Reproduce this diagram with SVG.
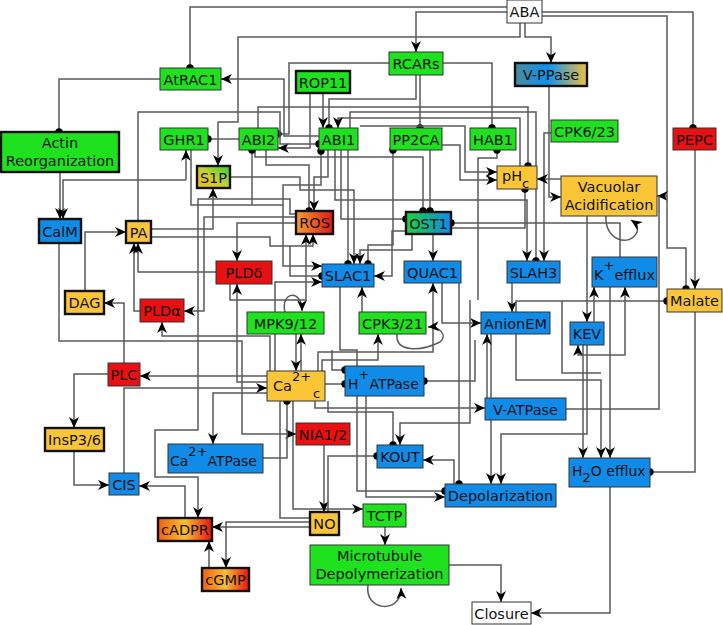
<svg xmlns="http://www.w3.org/2000/svg" width="723" height="625" viewBox="0 0 723 625">
<defs>
<marker id="ar" viewBox="0 0 10 10" refX="10" refY="5" markerWidth="11" markerHeight="11" markerUnits="userSpaceOnUse" orient="auto-start-reverse"><path d="M0,0.5 L10,5 L0,9.5 L3,5z" fill="#000"/></marker>
<marker id="dt" viewBox="0 0 8 8" refX="4" refY="4" markerWidth="8" markerHeight="8" markerUnits="userSpaceOnUse"><circle cx="4" cy="4" r="3.7" fill="#000"/></marker>
<linearGradient id="gS1P" x1="0" y1="1" x2="1" y2="0"><stop offset="0" stop-color="#f5b82a"/><stop offset="0.5" stop-color="#c8d030"/><stop offset="1" stop-color="#30d030"/></linearGradient>
<linearGradient id="gVPP" x1="0" y1="0" x2="1" y2="0"><stop offset="0" stop-color="#4a8a9a"/><stop offset="0.45" stop-color="#1090f0"/><stop offset="1" stop-color="#f0c040"/></linearGradient>
<linearGradient id="gROS" x1="0" y1="0" x2="1" y2="0"><stop offset="0" stop-color="#f8a030"/><stop offset="1" stop-color="#e01818"/></linearGradient>
<linearGradient id="gOST" x1="0" y1="0" x2="1" y2="0"><stop offset="0" stop-color="#20d040"/><stop offset="0.5" stop-color="#10b090"/><stop offset="1" stop-color="#1088f0"/></linearGradient>
<linearGradient id="gCA" x1="0" y1="0" x2="1" y2="0"><stop offset="0" stop-color="#f06010"/><stop offset="0.5" stop-color="#f8c030"/><stop offset="1" stop-color="#e81010"/></linearGradient>
</defs>
<style>
#connectors path{fill:none;stroke:#5a5a5a;stroke-width:1.5}
.a{marker-end:url(#ar)}
.d{marker-end:url(#dt)}
.dd{marker-start:url(#dt);marker-end:url(#dt)}
.ab{marker-start:url(#ar);marker-end:url(#ar)}
rect{stroke:#333;stroke-width:1}
.tk{stroke:#111;stroke-width:2.4}
.gr{fill:#1ee21e}.bl{fill:#108ce8}.ye{fill:#fac638}.rd{fill:#e81010}.wh{fill:#fff}
text{font-family:"DejaVu Sans","Liberation Sans",sans-serif;font-size:14.5px;fill:#111;text-anchor:middle}
.l{text-anchor:start}
.s{font-size:13px}
</style>
<rect width="723" height="625" fill="#fff" style="stroke:none"/>
<g id="connectors">
<path class="d" d="M507,7 H190 V68"/>
<path class="a" d="M507,12 H416 V52"/>
<path class="a" d="M520,23 V37 H238 V122 H218 V166"/>
<path class="a" d="M525,23 V37 H551 V63"/>
<path class="d" d="M542,12 H693 V128"/>
<path class="a" d="M542,16 H667 V196 H657"/>
<path class="d" d="M667,196 V248 H686 V289"/>
<path class="d" d="M389,63 H289 V134 H278"/>
<path class="d" d="M420,75 V128"/>
<path class="d" d="M443,63 H492 V128"/>
<path class="d" d="M416,75 V99 H329 V128"/>
<path class="a" d="M310,93 V148 H278"/>
<path class="a" d="M323,93 V128"/>
<path class="d" d="M160,79 H59 V132"/>
<path class="a" d="M319,136 H284 V79 H221"/>
<path class="d" d="M138,221 V112 H280 V144 H319"/>
<path class="d" d="M239,139 H208"/>
<path class="a" d="M60,172 V219"/>
<path class="a" d="M186,180 H63 V219"/>
<path class="a" d="M186,180 V150"/>
<path class="a" d="M191,150 V205 H283 V266 H322"/>
<path class="a" d="M85,291 V232 H126"/>
<path class="a" d="M140,311 H134 V243"/>
<path class="a" d="M216,272 H138 V243"/>
<path class="a" d="M124,363 V303 H104"/>
<path class="a" d="M151,229 H213 V188"/>
<path class="a" d="M151,237 H270 V246 H313 V234"/>
<path class="a" d="M230,177 H300 V190 H354 V264"/>
<path class="a" d="M296,223 H237 V261"/>
<path class="a" d="M296,217 H204 V311 H184"/>
<path class="a" d="M296,214 H290 V199 H198 V430 H155 V477 H198 V518"/>
<path class="a" d="M412,234 V250 H360 V264"/>
<path class="a" d="M406,231 H392 V276 H374"/>
<path class="a" d="M275,371 V282 H322"/>
<path class="a" d="M322,371 V360 H378 V334"/>
<path class="a" d="M318,371 V352 H433 V283"/>
<path class="a" d="M362,312 V287"/>
<path class="a" d="M301,371 V334"/>
<path class="a" d="M296,334 V371"/>
<path class="a" d="M433,234 V261"/>
<path class="a" d="M442,283 V323 H481"/>
<path class="a" d="M512,283 V312"/>
<path class="a" d="M551,133 H544 V261"/>
<path class="a" d="M335,150 V200 H527 V261"/>
<path class="a" d="M549,86 V197 H561"/>
<path class="a" d="M561,179 H537"/>
<path class="a" d="M360,126 H465 V172 H497"/>
<path class="a" d="M442,145 H460 V180 H497"/>
<path class="a" d="M520,166 V118 H338 V128"/>
<path class="a" d="M587,216 V322"/>
<path class="a" d="M594,322 V287"/>
<path class="ab" d="M578,345 V355 H625 V287"/>
<path class="a" d="M587,345 V434 H501 V484"/>
<path class="a" d="M583,345 V458"/>
<path class="a" d="M610,287 V458"/>
<path class="a" d="M516,334 V380 H601 V458"/>
<path d="M562,301 V373 H601"/>
<path class="a" d="M491,334 V484"/>
<path class="a" d="M487,398 V334"/>
<path class="a" d="M695,150 V289"/>
<path d="M566,409 H659 V196"/>
<path class="a" d="M267,393 H213 V444"/>
<path class="a" d="M315,401 V408 H485"/>
<path class="a" d="M293,401 V509 H363"/>
<path d="M280,401 V518 H310"/>
<path class="a" d="M324,445 V512"/>
<path class="a" d="M310,527 H212"/>
<path class="a" d="M310,522 H226 V568"/>
<path class="a" d="M209,568 V541"/>
<path class="a" d="M185,518 V486 H139"/>
<path class="a" d="M74,451 V485 H109"/>
<path class="a" d="M108,374 H74 V428"/>
<path class="a" d="M124,473 V388 H267"/>
<path class="a" d="M267,376 H140"/>
<path class="a" d="M270,371 V336 H162 V322"/>
<path class="a" d="M267,382 H237 V284"/>
<path class="a" d="M59,243 V341 H242 V434 H296"/>
<path class="a" d="M366,396 V497 H445"/>
<path class="d" d="M340,287 V350 H357 V491 H445"/>
<path class="a" d="M454,484 V460 H423"/>
<path class="a" d="M470,300 V423 H400 V445"/>
<path class="a" d="M449,565 H501 V602"/>
<path class="a" d="M610,487 V613 H531"/>
<path class="a" d="M385,527 V545"/>
<path class="a" d="M230,284 V300 H306 V234"/>
<path class="a" d="M328,150 V177 H314 V211"/>
<path class="a" d="M285,312 C280,292 302,288 302,311"/>
<path class="a" d="M397,334 C395,352 420,352 440,342 C448,336 440,326 428,327"/>
<path class="a" d="M606,216 C604,240 630,248 637,232 C639,226 634,222 631,220"/>
<path class="a" d="M368,585 C364,612 402,614 401,588"/>
<path class="d" d="M255,150 V157 H423 V211"/>
<path class="d" d="M430,150 V211"/>
<path class="d" d="M341,150 V219 H406"/>
<path class="d" d="M348,150 V264"/>
<path class="dd" d="M393,150 V245 H368 V264"/>
<path class="d" d="M258,128 V107 H528 V166"/>
<path class="d" d="M350,128 V112 H536 V261"/>
<path class="d" d="M451,228 H525 V189"/>
<path class="d" d="M620,257 V223 H451"/>
<path class="d" d="M478,300 V158 H497 V150"/>
<path class="d" d="M325,384 H345"/>
<path class="d" d="M332,350 V370 H345"/>
<path class="d" d="M475,340 V381 H424"/>
<path class="d" d="M263,458 H287 V401"/>
<path class="d" d="M328,401 V412 H393 V445"/>
<path class="d" d="M328,512 V456 H377"/>
<path class="d" d="M459,283 V484"/>
<path class="d" d="M516,312 V301 H667"/>
<path class="d" d="M695,312 V472 H650"/>
<path class="d" d="M252,205 V150"/>
<path class="d" d="M283,205 V185 H321 V151"/>
<path class="d" d="M266,150 V165 H309 V211"/>
<path class="d" d="M290,246 V276 H322"/>
</g>
<g id="ABA"><rect class="wh" x="507" y="0" width="35" height="23"/><text x="524.5" y="17">ABA</text></g>
<g id="RCARs"><rect class="gr" x="389" y="52" width="54" height="23"/><text x="416" y="69">RCARs</text></g>
<g id="AtRAC1"><rect class="gr" x="160" y="68" width="61" height="22"/><text x="190.5" y="84.5">AtRAC1</text></g>
<g id="ROP11"><rect class="gr tk" x="296" y="71" width="54" height="22"/><text x="323" y="87.5">ROP11</text></g>
<g id="V-PPase"><rect class="tk" fill="url(#gVPP)" x="515" y="63" width="72" height="23"/><text x="551" y="80">V-PPase</text></g>
<g id="ActinReorganization"><rect class="gr tk" x="1" y="132" width="118" height="40"/><text x="60" y="148">Actin</text><text x="60" y="166">Reorganization</text></g>
<g id="GHR1"><rect class="gr" x="160" y="128" width="48" height="22"/><text x="184" y="144.5">GHR1</text></g>
<g id="ABI2"><rect class="gr" x="239" y="128" width="39" height="22"/><text x="258.5" y="144.5">ABI2</text></g>
<g id="ABI1"><rect class="gr" x="319" y="128" width="39" height="22"/><text x="338.5" y="144.5">ABI1</text></g>
<g id="PP2CA"><rect class="gr" x="390" y="128" width="52" height="22"/><text x="416" y="144.5">PP2CA</text></g>
<g id="HAB1"><rect class="gr" x="470" y="128" width="46" height="22"/><text x="493" y="144.5">HAB1</text></g>
<g id="CPK6_23"><rect class="gr" x="551" y="120" width="67" height="22"/><text x="584.5" y="136.5">CPK6/23</text></g>
<g id="PEPC"><rect class="rd" x="673" y="128" width="43" height="22"/><text x="694.5" y="144.5">PEPC</text></g>
<g id="S1P"><rect class="tk" fill="url(#gS1P)" x="197" y="166" width="33" height="22"/><text x="213.5" y="182.5">S1P</text></g>
<g id="pHc"><rect class="ye" x="497" y="166" width="40" height="23"/><text class="l" x="502" y="181">pH<tspan class="s" dy="7">c</tspan></text></g>
<g id="VacuolarAcidification"><rect class="ye" x="561" y="176" width="96" height="40"/><text x="609" y="192">Vacuolar</text><text x="609" y="210">Acidification</text></g>
<g id="ROS"><rect class="tk" fill="url(#gROS)" x="296" y="211" width="37" height="23"/><text x="314.5" y="228">ROS</text></g>
<g id="OST1"><rect class="tk" fill="url(#gOST)" x="406" y="212" width="45" height="22"/><text x="428.5" y="228.5">OST1</text></g>
<g id="CalM"><rect class="bl tk" x="39" y="219" width="42" height="24"/><text x="60" y="236.5">CalM</text></g>
<g id="PA"><rect class="ye tk" x="126" y="221" width="25" height="22"/><text x="138.5" y="237.5">PA</text></g>
<g id="PLDdelta"><rect class="rd" x="216" y="261" width="56" height="23"/><text x="244" y="278">PLDδ</text></g>
<g id="SLAC1"><rect class="bl" x="322" y="264" width="52" height="23"/><text x="348" y="281">SLAC1</text></g>
<g id="QUAC1"><rect class="bl" x="404" y="261" width="57" height="22"/><text x="432.5" y="277.5">QUAC1</text></g>
<g id="SLAH3"><rect class="bl" x="507" y="261" width="53" height="22"/><text x="533.5" y="277.5">SLAH3</text></g>
<g id="Kefflux"><rect class="bl" x="592" y="257" width="65" height="30"/><text class="l" x="594" y="280">K<tspan class="s" dy="-10">+</tspan><tspan dy="10">efflux</tspan></text></g>
<g id="Malate"><rect class="ye" x="667" y="289" width="55" height="23"/><text x="694.5" y="306">Malate</text></g>
<g id="DAG"><rect class="ye tk" x="65" y="291" width="39" height="23"/><text x="84.5" y="308">DAG</text></g>
<g id="PLDalpha"><rect class="rd" x="140" y="299" width="44" height="23"/><text x="162" y="316">PLDα</text></g>
<g id="MPK9_12"><rect class="gr" x="247" y="312" width="77" height="22"/><text x="285.5" y="328.5">MPK9/12</text></g>
<g id="CPK3_21"><rect class="gr" x="359" y="312" width="67" height="22"/><text x="392.5" y="328.5">CPK3/21</text></g>
<g id="AnionEM"><rect class="bl" x="481" y="312" width="69" height="22"/><text x="515.5" y="328.5">AnionEM</text></g>
<g id="KEV"><rect class="bl" x="570" y="322" width="34" height="23"/><text x="587" y="339">KEV</text></g>
<g id="PLC"><rect class="rd" x="108" y="363" width="32" height="23"/><text x="124" y="380">PLC</text></g>
<g id="Ca2c"><rect class="ye" x="267" y="371" width="58" height="30"/><text class="l" x="273" y="391">Ca<tspan class="s" dy="-10">2+</tspan><tspan class="s" x="313" dy="17">c</tspan></text></g>
<g id="HATPase"><rect class="bl" x="345" y="366" width="79" height="30"/><text class="l" x="348" y="389" style="font-size:14px">H<tspan class="s" dy="-10">+</tspan><tspan dy="10">ATPase</tspan></text></g>
<g id="V-ATPase"><rect class="bl" x="485" y="398" width="81" height="22"/><text x="525.5" y="414.5">V-ATPase</text></g>
<g id="NIA1_2"><rect class="rd" x="296" y="423" width="54" height="22"/><text x="323" y="439.5">NIA1/2</text></g>
<g id="InsP3_6"><rect class="ye tk" x="45" y="428" width="59" height="23"/><text x="74.5" y="445">InsP3/6</text></g>
<g id="Ca2ATPase"><rect class="bl" x="168" y="444" width="95" height="29"/><text class="l" x="170" y="466" style="font-size:14px">Ca<tspan class="s" dy="-10">2+</tspan><tspan dy="10">ATPase</tspan></text></g>
<g id="KOUT"><rect class="bl" x="377" y="445" width="46" height="23"/><text x="400" y="462">KOUT</text></g>
<g id="H2Oefflux"><rect class="bl" x="569" y="458" width="81" height="29"/><text class="l" x="572" y="476" style="font-size:14px">H<tspan class="s" dy="6">2</tspan><tspan dy="-6">O efflux</tspan></text></g>
<g id="CIS"><rect class="bl" x="109" y="473" width="30" height="22"/><text x="124" y="489.5">CIS</text></g>
<g id="Depolarization"><rect class="bl" x="445" y="484" width="111" height="23"/><text x="500.5" y="501">Depolarization</text></g>
<g id="TCTP"><rect class="gr" x="363" y="504" width="43" height="23"/><text x="384.5" y="521">TCTP</text></g>
<g id="NO"><rect class="ye tk" x="310" y="512" width="29" height="23"/><text x="324.5" y="529">NO</text></g>
<g id="cADPR"><rect class="tk" fill="url(#gCA)" x="158" y="518" width="54" height="23"/><text x="185" y="535">cADPR</text></g>
<g id="MicrotubuleDepolymerization"><rect class="gr" x="310" y="545" width="139" height="40"/><text x="379.5" y="561">Microtubule</text><text x="379.5" y="579">Depolymerization</text></g>
<g id="cGMP"><rect class="tk" fill="url(#gCA)" x="202" y="568" width="47" height="23"/><text x="225.5" y="585">cGMP</text></g>
<g id="Closure"><rect class="wh" x="472" y="602" width="59" height="22"/><text x="501.5" y="618.5">Closure</text></g>
</svg>
